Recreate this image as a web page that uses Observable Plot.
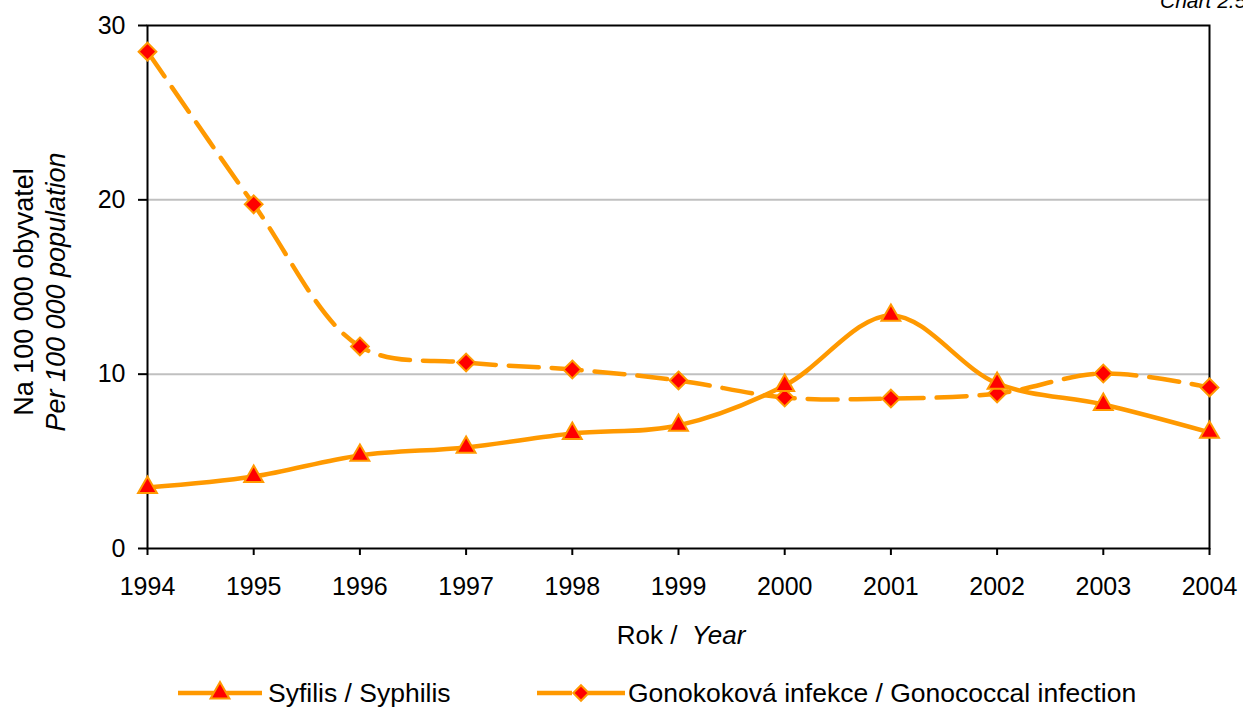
<!DOCTYPE html>
<html>
<head>
<meta charset="utf-8">
<script src="https://cdn.jsdelivr.net/npm/d3@7"></script>
<script src="https://cdn.jsdelivr.net/npm/@observablehq/plot@0.6"></script>
<style>
  html, body { margin:0; padding:0; background:#fff; overflow:hidden; }
  #wrap { position:relative; width:1243px; height:709px; overflow:hidden; font-family:"Liberation Sans", Arial, sans-serif; color:#000; }
  .abs { position:absolute; white-space:nowrap; }
</style>
</head>
<body>
<div id="wrap"></div>
<script>
const years = [1994, 1995, 1996, 1997, 1998, 1999, 2000, 2001, 2002, 2003, 2004];
const syphilis = [3.5, 4.13, 5.34, 5.8, 6.6, 7.06, 9.35, 13.37, 9.47, 8.26, 6.66];
const gonococcal = [28.5, 19.74, 11.59, 10.67, 10.27, 9.64, 8.66, 8.6, 8.89, 10.04, 9.24];
const yTicks = [0, 10, 20, 30];
const gridTicks = [10, 20];
const seriesNames = ["Syfilis / Syphilis", "Gonokoková infekce / Gonococcal infection"];

const ORANGE = "#FF9900";
const RED = "#FF0000";

const syData = years.map((y, i) => ({year: y, value: syphilis[i]}));
const goData = years.map((y, i) => ({year: y, value: gonococcal[i]}));

const chart = Plot.plot({
  width: 1243,
  height: 709,
  marginLeft: 147,
  marginRight: 34,
  marginTop: 25,
  marginBottom: 161,
  style: {fontFamily: "'Liberation Sans', Arial, sans-serif", fontSize: "25px", color: "#000", background: "transparent", overflow: "visible"},
  x: {domain: [1994, 2004], label: null},
  y: {domain: [0, 30], label: null},
  marks: [
    Plot.gridY(gridTicks, {stroke: "#C0C0C0", strokeOpacity: 1, strokeWidth: 2}),
    Plot.frame({stroke: "#000", strokeWidth: 2}),
    Plot.axisX({ticks: years, tickFormat: d => String(d), tickSize: 7, tickPadding: 22, fontSize: 25, stroke: "#000", strokeWidth: 2, label: null}),
    Plot.axisY({ticks: yTicks, tickSize: 9, tickPadding: 13, fontSize: 25, stroke: "#000", strokeWidth: 2, label: null}),
    Plot.line(goData, {x: "year", y: "value", curve: "catmull-rom", stroke: ORANGE, strokeWidth: 4.5, strokeDasharray: "30,13"}),
    Plot.line(syData, {x: "year", y: "value", curve: "catmull-rom", stroke: ORANGE, strokeWidth: 4.5}),
    Plot.dot(goData, {x: "year", y: "value", symbol: "diamond2", r: 8, fill: RED, stroke: ORANGE, strokeWidth: 2}),
    Plot.dot(syData, {x: "year", y: "value", symbol: "triangle", r: 7, fill: RED, stroke: ORANGE, strokeWidth: 2})
  ]
});

const wrap = document.getElementById("wrap");
chart.style.position = "absolute";
chart.style.left = "0px";
chart.style.top = "0px";
wrap.appendChild(chart);

function addDiv(html, css) {
  const d = document.createElement("div");
  d.className = "abs";
  d.innerHTML = html;
  Object.assign(d.style, css);
  wrap.appendChild(d);
  return d;
}

// Corner label (mostly cut off at the top, as in the reference)
addDiv("<i>Chart 2.5</i>", {left: "1160px", top: "-11px", fontSize: "21px", lineHeight: "24px"});

// X axis title
addDiv("Rok / &nbsp;<i>Year</i>", {left: "681px", top: "620px", transform: "translateX(-50%)", fontSize: "26px", lineHeight: "30px"});

// Y axis title (two lines, rotated)
addDiv("Na 100 000 obyvatel<br><i>Per 100 000 population</i>", {
  left: "40px", top: "292px", fontSize: "27px", lineHeight: "32px", textAlign: "center",
  transform: "translate(-50%, -50%) rotate(-90deg)"
});

// Legend
function legendItem(left, textLeft, width, marker, dashed, label) {
  const svg = d3.create("svg").attr("width", width).attr("height", 26)
    .style("position", "absolute").style("left", left + "px").style("top", "680px");
  svg.append("line").attr("x1", 0).attr("x2", width).attr("y1", 13).attr("y2", 13)
    .attr("stroke", ORANGE).attr("stroke-width", 4.5)
    .attr("stroke-dasharray", dashed ? "35,16,37" : null);
  const sym = d3.symbol().type(marker === "triangle" ? d3.symbolTriangle : d3.symbolDiamond2).size(Math.PI * 49);
  svg.append("path").attr("d", sym()).attr("transform", `translate(${width / 2},13)`)
    .attr("fill", RED).attr("stroke", ORANGE).attr("stroke-width", 2);
  wrap.appendChild(svg.node());
  addDiv(label, {left: textLeft + "px", top: "677px", fontSize: "26.5px", lineHeight: "32px"});
}
legendItem(178, 268, 84, "triangle", false, seriesNames[0]);
legendItem(537, 628, 88, "diamond", true, seriesNames[1]);
</script>
</body>
</html>
